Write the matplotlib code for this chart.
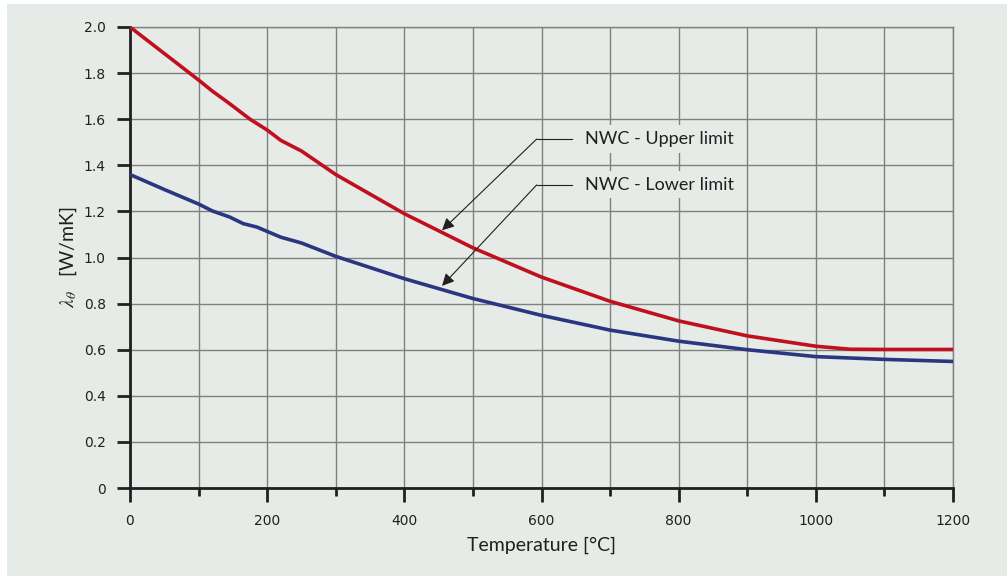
import matplotlib.pyplot as plt
from matplotlib.patches import Rectangle
from matplotlib.ticker import MultipleLocator, FuncFormatter

# thermal conductivity of normal weight concrete
temp_upper = [0, 50, 100, 120, 145, 175, 200, 220, 250, 300, 400, 500, 600, 700, 800, 900, 1000, 1050, 1100, 1200]
lam_upper = [2.0, 1.885, 1.77, 1.722, 1.668, 1.6, 1.553, 1.508, 1.462, 1.36, 1.19, 1.042, 0.915, 0.81, 0.725, 0.66, 0.615, 0.602, 0.601, 0.601]

temp_lower = [0, 50, 100, 120, 145, 165, 185, 220, 250, 300, 400, 500, 600, 700, 800, 900, 1000, 1100, 1200]
lam_lower = [1.36, 1.295, 1.232, 1.202, 1.176, 1.147, 1.132, 1.088, 1.063, 1.005, 0.908, 0.822, 0.749, 0.685, 0.637, 0.6, 0.57, 0.558, 0.549]

x_ticks = [0, 200, 400, 600, 800, 1000, 1200]
y_ticks = [0, 0.2, 0.4, 0.6, 0.8, 1.0, 1.2, 1.4, 1.6, 1.8, 2.0]

bg = '#e6ebe7'
red = '#c0101f'
blue = '#2b3681'
ink = '#231f20'
narrow = ['Liberation Sans Narrow', 'DejaVu Sans']

plt.rcParams['mathtext.fontset'] = 'stix'

fig = plt.figure(figsize=(10.07, 5.76), dpi=100, facecolor='white')
fig.patches.append(Rectangle((7 / 1007, 0), 1, 572 / 576, transform=fig.transFigure,
                             facecolor=bg, edgecolor='none', zorder=-10))
ax = fig.add_axes([130 / 1007, 88 / 576, 823 / 1007, 461 / 576])
ax.set_facecolor(bg)

ax.plot(temp_upper, lam_upper, color=red, lw=2.6, zorder=3, solid_capstyle='butt')
ax.plot(temp_lower, lam_lower, color=blue, lw=2.6, zorder=3, solid_capstyle='butt')

ax.set_xlim(0, 1200)
ax.set_ylim(0, 2.0)
ax.set_xticks(x_ticks)
ax.xaxis.set_minor_locator(MultipleLocator(100))
ax.set_yticks(y_ticks)
ax.yaxis.set_major_formatter(FuncFormatter(lambda v, p: '0' if v == 0 else f'{v:.1f}'))

ax.grid(True, which='both', color='#7f817f', lw=1.0)
ax.set_axisbelow(True)
for s in ['top', 'right']:
    ax.spines[s].set_color('#7f817f')
    ax.spines[s].set_linewidth(1.0)
for s in ['left', 'bottom']:
    ax.spines[s].set_color(ink)
    ax.spines[s].set_linewidth(2.0)

ax.tick_params(axis='y', which='major', length=9.5, width=2, color=ink, pad=8)
ax.tick_params(axis='x', which='major', length=10, width=2, color=ink, pad=9)
ax.tick_params(axis='x', which='minor', length=6, width=2, color=ink)
for lab in ax.get_xticklabels() + ax.get_yticklabels():
    lab.set_family(narrow)
    lab.set_fontsize(10)
    lab.set_color(ink)

ax.set_xlabel('Temperature [°C]', family='Lato', fontsize=14, color=ink, labelpad=6)
ax.set_ylabel(r'$\lambda_\theta$   [W/mK]', family='Lato', fontsize=14, color=ink, labelpad=3)

# callouts
callouts = [('NWC - Upper limit', (455, 1.118), (593, 1.514)),
            ('NWC - Lower limit', (455, 0.877), (593, 1.315))]
for text, tip, elbow in callouts:
    ax.plot([elbow[0], elbow[0] + 52], [elbow[1], elbow[1]], color=ink, lw=0.8, zorder=4)
    ax.annotate('', xy=tip, xytext=elbow,
                arrowprops=dict(arrowstyle='-|>', color=ink, lw=0.8,
                                mutation_scale=18, shrinkA=0, shrinkB=0), zorder=4)
    ax.text(elbow[0] + 70, elbow[1], text, family='Lato', fontsize=13, color=ink,
            va='center', ha='left', zorder=4,
            bbox=dict(facecolor=bg, edgecolor='none', pad=4))

fig.savefig('out.png', dpi=100, facecolor=fig.get_facecolor())
